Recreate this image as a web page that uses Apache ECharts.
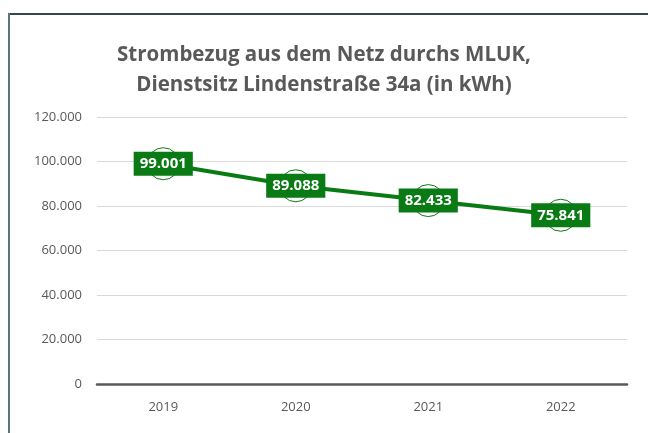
<!DOCTYPE html>
<html>
<head>
<meta charset="utf-8">
<script src="https://cdn.jsdelivr.net/npm/echarts@6/dist/echarts.min.js"></script>
<style>
html,body{margin:0;padding:0;background:#fff;}
#c{width:648px;height:433px;}
</style>
</head>
<body>
<div id="c"></div>
<script>
var categories = ['2019', '2020', '2021', '2022'];
var values = [99001, 89088, 82433, 75841];
var yTicks = [0, 20000, 40000, 60000, 80000, 100000, 120000];
var titleText = 'Strombezug aus dem Netz durchs MLUK,\nDienstsitz Lindenstraße 34a (in kWh)';

function fmt(v) {
  var s = String(Math.round(v));
  return s.replace(/\B(?=(\d{3})+(?!\d))/g, '.');
}

var green = '#0a7a14';
var chart = echarts.init(document.getElementById('c'), null, {renderer: 'canvas'});
chart.setOption({
  animation: false,
  backgroundColor: '#fff',
  title: {
    text: titleText,
    left: 'center',
    top: 35,
    textStyle: {
      fontFamily: 'Open Sans',
      fontWeight: 'bold',
      fontSize: 20.5,
      lineHeight: 30,
      color: '#595959'
    }
  },
  graphic: [
    {type: 'line', shape: {x1: 8, y1: 14, x2: 648, y2: 14}, style: {stroke: '#34494f', lineWidth: 2}},
    {type: 'line', shape: {x1: 9, y1: 13, x2: 9, y2: 433}, style: {stroke: '#5d7480', lineWidth: 2}}
  ],
  grid: {left: 97, right: 21, top: 117, bottom: 49, containLabel: false},
  xAxis: {
    type: 'category',
    data: categories,
    boundaryGap: true,
    axisLine: {show: true, lineStyle: {color: '#595959', width: 2.5}},
    axisTick: {show: false},
    axisLabel: {color: '#595959', fontFamily: 'Open Sans', fontSize: 13, margin: 17}
  },
  yAxis: {
    type: 'value',
    min: yTicks[0],
    max: yTicks[yTicks.length - 1],
    interval: 20000,
    axisLine: {show: false},
    axisTick: {show: false},
    splitLine: {lineStyle: {color: '#d9d9d9', width: 1}},
    axisLabel: {
      color: '#595959', fontFamily: 'Open Sans', fontSize: 13, margin: 15,
      formatter: function (v) { return fmt(v); }
    }
  },
  series: [{
    type: 'line',
    data: values,
    symbol: 'circle',
    symbolSize: 32,
    itemStyle: {color: '#ffffff', borderColor: green, borderWidth: 1},
    lineStyle: {color: green, width: 4},
    label: {
      show: true,
      position: 'inside',
      formatter: function (p) { return fmt(p.value); },
      color: '#ffffff',
      fontFamily: 'Open Sans',
      fontWeight: 'bold',
      fontSize: 15,
      backgroundColor: green,
      padding: [5, 6, 4, 6]
    }
  }]
});
</script>
</body>
</html>
